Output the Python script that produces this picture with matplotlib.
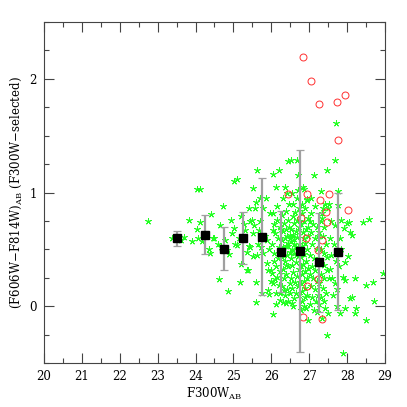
import matplotlib
matplotlib.use("Agg")
import matplotlib.pyplot as plt
from matplotlib.ticker import MultipleLocator

# ---------------- data ----------------
green_x = [
    22.74, 23.38, 23.62, 23.70,
    23.82, 23.91, 24.03,
    24.03, 24.11, 24.12, 24.06, 24.18, 24.41, 24.35, 24.45, 24.38, 24.28, 24.50,
    24.61, 24.72, 24.65, 24.66, 24.60, 24.87, 24.86, 24.93, 24.78, 24.84, 24.95,
    25.02, 25.10, 25.01, 25.10, 25.18, 25.19, 25.20, 25.35, 25.39, 25.31, 25.41, 25.45, 25.15, 25.28, 25.43, 25.05, 25.35,
    25.52, 25.61, 25.60, 25.58, 25.50, 25.52, 25.41, 25.52, 25.60, 25.59, 25.71, 25.79, 25.85, 25.68, 25.88, 25.79, 25.88,
    25.91, 25.93, 25.65, 25.73, 25.83, 25.95, 25.55, 25.97, 25.70, 25.62, 25.90, 25.98, 25.76,
    26.04, 26.13, 26.21, 26.05, 26.14, 26.05, 26.14, 26.05, 26.10, 26.02, 26.06, 26.12, 26.03, 26.16, 26.05, 26.20,
    26.13, 26.12, 26.22, 26.24, 26.20, 26.18, 26.08, 26.22, 26.17, 26.08, 26.23, 26.10, 26.00,
    26.30, 26.40, 26.45, 26.35, 26.42, 26.28, 26.48, 26.33, 26.40, 26.30, 26.45, 26.36, 26.28, 26.42, 26.48, 26.30,
    26.38, 26.45, 26.27, 26.35, 26.42, 26.50, 26.30, 26.40, 26.47, 26.33, 26.44, 26.28, 26.38, 26.47, 26.30, 26.42,
    26.35, 26.45, 26.27, 26.39, 26.33, 26.48, 26.26, 26.44,
    26.51, 26.69, 26.71, 26.55, 26.60, 26.65, 26.55, 26.70, 26.62, 26.52, 26.68, 26.58, 26.73, 26.55, 26.64, 26.52,
    26.70, 26.60, 26.55, 26.66, 26.72, 26.53, 26.61, 26.69, 26.57, 26.65, 26.52, 26.74, 26.60, 26.68, 26.56, 26.63,
    26.72, 26.58, 26.67, 26.55, 26.70, 26.60, 26.64, 26.50, 26.73, 26.58,
    26.83, 26.87, 26.78, 26.85, 26.92, 26.97, 26.80, 26.88, 26.95, 26.82, 26.90, 26.78, 26.86, 26.94, 26.80, 26.88,
    26.96, 26.83, 26.91, 26.78, 26.86, 26.95, 26.80, 26.89, 26.97, 26.84, 26.92, 26.79, 26.87, 26.96, 26.82, 26.90,
    26.93, 26.95, 26.80, 26.98, 26.85, 26.77,
    27.12, 27.15, 27.05, 27.02, 27.10, 27.20, 27.05, 27.15, 27.08, 27.20, 27.03, 27.13, 27.22, 27.06, 27.16, 27.01,
    27.11, 27.20, 27.05, 27.14, 27.22, 27.08, 27.18, 27.03, 27.12, 27.20, 27.05, 27.22,
    27.31, 27.33, 27.37, 27.42, 27.46, 27.30, 27.40, 27.27, 27.36, 27.45, 27.30, 27.40, 27.28, 27.38, 27.47, 27.30,
    27.40, 27.27, 27.36, 27.45, 27.30, 27.38, 27.27, 27.33, 27.46, 27.50, 27.42, 27.48, 27.35,
    27.53, 27.50, 27.71, 27.68, 27.68, 27.55, 27.65, 27.58, 27.70, 27.55, 27.68, 27.72, 27.60, 27.64, 27.72, 27.58, 27.52,
    27.76, 27.75, 27.85, 27.92, 27.80, 27.94, 27.90, 27.94, 27.94, 27.90, 27.82, 27.78, 27.85,
    28.00, 28.06, 28.07, 28.12, 28.03, 28.21, 28.51, 28.69, 28.95, 28.71, 28.50, 28.22, 28.24, 28.12, 28.08, 28.42, 28.58,
]
green_y = [
    0.75, 0.60, 0.58, 0.61,
    0.76, 0.57, 0.68,
    1.03, 1.03, 0.74, 0.60, 0.57, 0.81, 0.50, 0.60, 0.47, 0.62, 0.60,
    0.235, 0.885, 0.71, 0.52, 0.55, 0.46, 0.13, 0.76, 0.58, 0.49, 0.64,
    1.10, 1.12, 0.69, 0.54, 0.215, 0.37, 0.79, 0.315, 0.315, 0.67, 0.865, 0.52, 0.60, 0.72, 0.75, 0.55, 0.48,
    1.04, 1.20, 0.92, 0.86, 0.76, 0.64, 0.53, 0.44, 0.215, 0.04, 0.75, 0.865, 0.955, 0.67, 0.585, 0.47, 0.38,
    0.14, 0.105, 0.55, 0.52, 0.62, 0.50, 0.71, 0.82, 0.95, 0.45, 0.32, 0.22, 0.12,
    1.16, 1.045, 1.20, -0.07, 0.88, 0.82, 0.76, 0.67, 0.64, 0.55, 0.47, 0.35, 0.29, 0.26, 0.20, 0.19,
    0.115, 0.02, 0.055, 0.115, 0.52, 0.60, 0.72, 0.70, 0.42, 0.40, 0.31, 0.24, 0.32,
    0.04, 0.03, 0.05, 0.10, 0.15, 0.18, 0.20, 0.25, 0.28, 0.33, 0.35, 0.40, 0.43, 0.45, 0.48, 0.52,
    0.53, 0.56, 0.58, 0.60, 0.62, 0.63, 0.66, 0.68, 0.70, 0.73, 0.76, 0.80, 0.84, 0.90, 0.95, 1.00,
    1.05, 1.28, 0.50, 0.36, 0.14, 0.12, 0.68, 0.53,
    1.29, 1.29, 1.15, 0.03, 0.07, 0.12, 0.16, 0.18, 0.21, 0.25, 0.27, 0.30, 0.33, 0.36, 0.39, 0.42,
    0.44, 0.47, 0.50, 0.52, 0.55, 0.57, 0.59, 0.61, 0.63, 0.66, 0.68, 0.70, 0.73, 0.76, 0.79, 0.83,
    0.86, 0.90, 0.95, 1.00, 1.02, 0.55, 0.45, 0.60, 0.10, 0.00,
    1.05, 1.03, -0.03, 0.00, -0.02, -0.12, 0.05, 0.08, 0.10, 0.13, 0.16, 0.20, 0.22, 0.25, 0.28, 0.31,
    0.34, 0.37, 0.40, 0.43, 0.46, 0.50, 0.53, 0.56, 0.62, 0.65, 0.68, 0.72, 0.75, 0.78, 0.82, 0.86,
    0.93, 0.94, 0.90, 0.70, 0.60, 0.35,
    1.15, 0.88, 0.95, 0.75, 0.72, 0.70, 0.65, 0.60, 0.55, 0.50, 0.45, 0.42, 0.38, 0.35, 0.32, 0.28,
    0.25, 0.22, 0.18, 0.15, 0.10, 0.08, 0.05, 0.02, -0.03, -0.05, 0.82, 0.62,
    1.015, 0.82, 0.86, 0.90, 1.195, 0.75, 0.70, 0.65, 0.62, 0.55, 0.50, 0.47, 0.40, 0.36, 0.32, 0.28,
    0.25, 0.20, 0.16, 0.12, 0.08, 0.05, 0.02, -0.10, -0.25, -0.06, -0.02, 0.43, 0.78,
    0.90, 0.86, 1.61, 1.29, 0.715, 0.60, 0.55, 0.45, 0.40, 0.33, 0.20, 0.15, 0.25, 0.10, 0.00, 0.75, 0.25,
    1.015, 0.89, 0.76, 0.69, 0.60, 0.39, 0.26, 0.23, -0.02, -0.41, -0.06, 0.35, 0.50,
    0.73, 0.745, 0.65, 0.63, 0.44, 0.25, 0.19, 0.21, 0.29, 0.05, -0.12, -0.06, -0.02, 0.085, 0.07, 0.74, 0.77,
]

red_x = [26.84, 27.04, 27.26, 27.72, 27.95, 27.76, 26.45, 26.95, 27.52, 27.28, 27.45,
         28.02, 26.79, 27.48, 26.91, 27.35, 27.23, 27.23, 26.95, 26.84, 27.35]
red_y = [2.188, 1.985, 1.779, 1.797, 1.859, 1.465, 0.985, 0.985, 0.985, 0.935, 0.832,
         0.847, 0.776, 0.741, 0.603, 0.579, 0.494, 0.238, 0.182, -0.097, -0.112]

bin_x = [23.5, 24.25, 24.75, 25.25, 25.75, 26.25, 26.75, 27.25, 27.75]
bin_y = [0.596, 0.628, 0.505, 0.596, 0.610, 0.480, 0.485, 0.385, 0.480]
bin_hi = [0.662, 0.803, 0.694, 0.829, 1.126, 0.838, 1.376, 0.818, 1.000]
bin_lo = [0.532, 0.456, 0.318, 0.371, 0.097, 0.126, -0.403, -0.053, -0.032]

# ---------------- plot ----------------
plt.rcParams['font.family'] = ['DejaVu Serif']
plt.rcParams['mathtext.fontset'] = 'dejavuserif'

fig = plt.figure(figsize=(4.07, 4.07), dpi=100)
ax = fig.add_axes([0.108, 0.108, 0.838, 0.838])

ax.plot(green_x, green_y, linestyle='none', marker=(5, 2, 0), markersize=4.8,
        markeredgewidth=0.6, color='#22ff22', zorder=2)
ax.plot(red_x, red_y, linestyle='none', marker='o', markersize=5,
        markerfacecolor='none', markeredgecolor='#ff3030', markeredgewidth=0.7, zorder=3)

yerr = [[b - l for b, l in zip(bin_y, bin_lo)], [h - b for b, h in zip(bin_y, bin_hi)]]
_, caps, bars = ax.errorbar(bin_x, bin_y, yerr=yerr, fmt='none', ecolor='#a0a0a0',
                            elinewidth=1.6, capsize=3.2, capthick=0.9, zorder=4)
for c in caps:
    c.set_color('#333333')
ax.plot(bin_x, bin_y, linestyle='none', marker='s', markersize=5.3, color='black', zorder=5)

ax.set_xlim(20, 29)
ax.set_ylim(-0.5, 2.5)
ax.xaxis.set_major_locator(MultipleLocator(1))
ax.xaxis.set_minor_locator(MultipleLocator(0.5))
ax.yaxis.set_major_locator(MultipleLocator(1))
ax.yaxis.set_minor_locator(MultipleLocator(0.25))
ax.tick_params(which='both', direction='in', top=True, right=True, colors='#444444',
               labelcolor='black', labelsize=8.5, width=0.8)
ax.tick_params(which='major', length=7, pad=5)
ax.tick_params(which='minor', length=3.5)
for s in ax.spines.values():
    s.set_color('#444444')
    s.set_linewidth(0.8)

ax.set_xlabel(r'F300W$_{\rm AB}$', fontsize=8.5, labelpad=2)
ax.set_ylabel('(F606W\u2212F814W)$_{\\rm AB}$ (F300W\u2212selected)', fontsize=8.5, labelpad=4)

fig.savefig('out.png', dpi=100)
